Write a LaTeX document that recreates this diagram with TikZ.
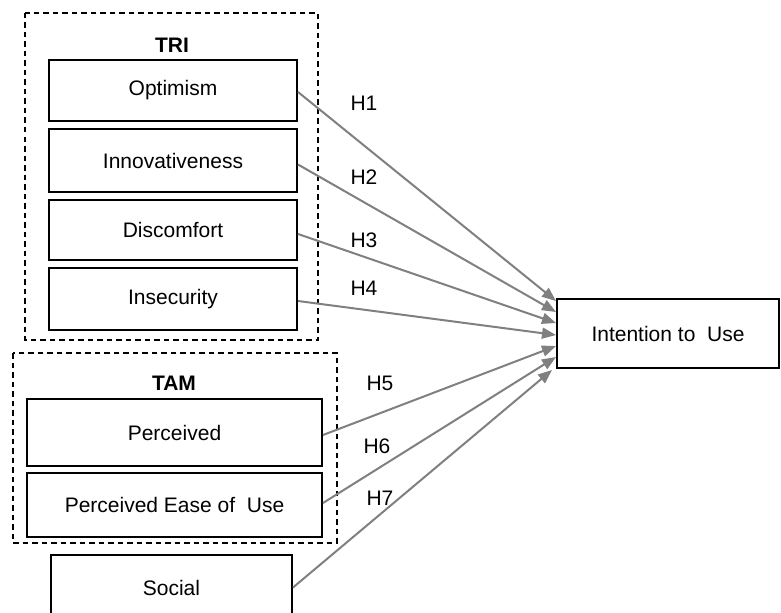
\documentclass[tikz,border=0pt]{standalone}
\usepackage{fontspec}
\setmainfont{Liberation Sans}
\usetikzlibrary{calc,arrows.meta}
\begin{document}
\begin{tikzpicture}[x=1bp,y=-1bp,
  every node/.style={font=\fontsize{21bp}{25bp}\selectfont},
  factor/.style={draw=black,line width=2bp,rectangle,inner sep=0pt,anchor=center},
  group/.style={draw=black,line width=1.6bp,dash pattern=on 5.5bp off 4bp},
  hyp/.style={draw=gray,line width=2bp,-{Triangle[length=14bp,width=11bp]},fill=gray},
  lab/.style={inner sep=0pt}]
\useasboundingbox (0,0) rectangle (781,613);
\clip (0,0) rectangle (781,613);
\fill[white] (0,0) rectangle (781,613);
% groups
\draw[group] (25,13) rectangle (318,340);
\draw[group] (13,353) rectangle (337,543);
\node[lab,font=\fontsize{21bp}{25bp}\selectfont\bfseries] (tri) at (172,45) {TRI};
\node[lab,font=\fontsize{21bp}{25bp}\selectfont\bfseries] (tam) at (174,383) {TAM};
% factor boxes
\node[factor,minimum width=248bp,minimum height=61bp] (opt) at (173,90.5) {Optimism};
\node[factor,minimum width=248bp,minimum height=63bp] (inn) at (173,160.5) {Innovativeness};
\node[factor,minimum width=248bp,minimum height=60bp] (dis) at (173,230) {Discomfort};
\node[factor,minimum width=248bp,minimum height=62bp] (ins) at (173,299) {Insecurity};
\node[factor,minimum width=295bp,minimum height=67bp] (per) at (174.5,432.5) {Perceived};
\node[factor,minimum width=295bp,minimum height=64bp] (peou) at (174.5,505) {Perceived Ease of\ \ Use};
\node[factor,minimum width=241bp,minimum height=65bp] (soc) at (171.5,587.5) {Social};
\node[factor,minimum width=222bp,minimum height=69bp] (int) at (668,333.5) {Intention to\ \ Use};
% arrow end points on the outcome box
\coordinate (t1) at ($(int.north west)+(0,3)$);
\coordinate (t2) at ($(int.north west)+(0,14)$);
\coordinate (t3) at ($(int.north west)+(0,25)$);
\coordinate (t4) at ($(int.north west)+(0,37)$);
\coordinate (t5) at ($(int.north west)+(0,48)$);
\coordinate (t6) at ($(int.north west)+(0,59)$);
\coordinate (t7) at ($(int.north west)+(-4,72)$);
% hypotheses
\draw[hyp] ($(opt.east)+(0,1.5)$) -- (t1);
\draw[hyp] ($(inn.east)+(0,4)$) -- (t2);
\draw[hyp] ($(dis.east)+(0,4)$) -- (t3);
\draw[hyp] ($(ins.east)+(0,2)$) -- (t4);
\draw[hyp] ($(per.east)+(0,2.5)$) -- (t5);
\draw[hyp] ($(peou.east)+(0,-2)$) -- (t6);
\draw[hyp] ($(soc.east)+(0,0)$) -- (t7);
% labels
\node[lab] (h1) at (364,103) {H1};
\node[lab] (h2) at (364,177) {H2};
\node[lab] (h3) at (364,240) {H3};
\node[lab] (h4) at (364,288) {H4};
\node[lab] (h5) at (380,383) {H5};
\node[lab] (h6) at (377,446) {H6};
\node[lab] (h7) at (380,498) {H7};
\end{tikzpicture}
\end{document}
